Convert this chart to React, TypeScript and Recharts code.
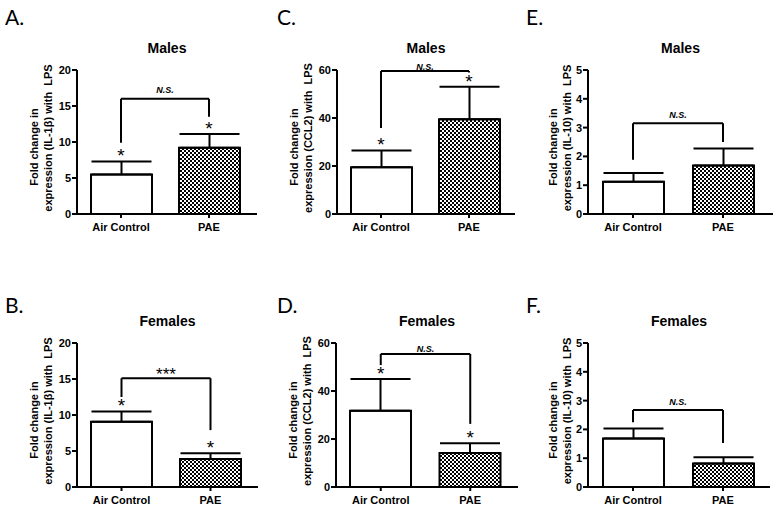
// Cytokine fold-change panels (A-F): bar + SEM, significance brackets.
import React from "react";
import {
  BarChart,
  Bar,
  Cell,
  XAxis,
  YAxis,
  ErrorBar,
  ReferenceLine,
  ReferenceDot,
} from "recharts";

const groups = ["Air Control", "PAE"];

// means and upper SEM
const il1bMale = [5.5, 9.2];
const il1bMaleSem = [1.8, 1.9];
const il1bFemale = [9.05, 3.9];
const il1bFemaleSem = [1.45, 0.8];
const ccl2Male = [19.5, 39.5];
const ccl2MaleSem = [7.0, 13.5];
const ccl2Female = [31.8, 14.2];
const ccl2FemaleSem = [13.2, 4.0];
const il10Male = [1.12, 1.68];
const il10MaleSem = [0.3, 0.59];
const il10Female = [1.68, 0.82];
const il10FemaleSem = [0.35, 0.21];

// brackets: [left leg bottom, bracket height, right leg bottom]
const il1bMaleBracket = [9.9, 16, 13.5];
const il1bFemaleBracket = [12.5, 15.1, 7.9];
const ccl2MaleBracket = [35.8, 59.6, 59.0];
const ccl2FemaleBracket = [50.8, 55.4, 26.3];
const il10MaleBracket = [1.88, 3.15, 2.5];
const il10FemaleBracket = [2.25, 2.67, 1.53];

// which bars carry a "*"
const il1bMaleStars = [true, true];
const il1bFemaleStars = [true, true];
const ccl2MaleStars = [true, true];
const ccl2FemaleStars = [true, true];
const il10MaleStars = [false, false];
const il10FemaleStars = [false, false];

const il1bTicks = [0, 5, 10, 15, 20];
const ccl2Ticks = [0, 20, 40, 60];
const il10Ticks = [0, 1, 2, 3, 4, 5];

const FONT = "'Liberation Sans', Arial, sans-serif";
const CHART_H = 234;
const PLOT_TOP = 70;

type Panel = {
  id: string;
  letter: string;
  title: string;
  gene: string;
  means: number[];
  sems: number[];
  bracket: number[];
  sig: string;
  sigOffset: number;
  stars: boolean[];
  ticks: number[];
  base: number;
  top: number;
  plotLeft: number;
  axisEnd: number;
  padRight: number;
  labelOff: number[];
};

const panels: Panel[] = [
  { id: "a", letter: "A.", title: "Males", gene: "IL-1\u03B2", means: il1bMale, sems: il1bMaleSem, bracket: il1bMaleBracket, sig: "N.S.", sigOffset: 6, stars: il1bMaleStars, ticks: il1bTicks, base: 0, top: 0, plotLeft: 77, axisEnd: 257, padRight: 4, labelOff: [39, 25] },
  { id: "b", letter: "B.", title: "Females", gene: "IL-1\u03B2", means: il1bFemale, sems: il1bFemaleSem, bracket: il1bFemaleBracket, sig: "***", sigOffset: -2, stars: il1bFemaleStars, ticks: il1bTicks, base: 0, top: 273, plotLeft: 77, axisEnd: 258, padRight: 3, labelOff: [39, 25] },
  { id: "c", letter: "C.", title: "Males", gene: "CCL2", means: ccl2Male, sems: ccl2MaleSem, bracket: ccl2MaleBracket, sig: "N.S.", sigOffset: 1, stars: ccl2MaleStars, ticks: ccl2Ticks, base: 260, top: 0, plotLeft: 337, axisEnd: 515, padRight: 2, labelOff: [39, 25] },
  { id: "d", letter: "D.", title: "Females", gene: "CCL2", means: ccl2Female, sems: ccl2FemaleSem, bracket: ccl2FemaleBracket, sig: "N.S.", sigOffset: 2, stars: ccl2FemaleStars, ticks: ccl2Ticks, base: 260, top: 273, plotLeft: 336, axisEnd: 518, padRight: 3, labelOff: [39, 25] },
  { id: "e", letter: "E.", title: "Males", gene: "IL-10", means: il10Male, sems: il10MaleSem, bracket: il10MaleBracket, sig: "N.S.", sigOffset: 5, stars: il10MaleStars, ticks: il10Ticks, base: 520, top: 0, plotLeft: 588, axisEnd: 773, padRight: 5, labelOff: [31, 17] },
  { id: "f", letter: "F.", title: "Females", gene: "IL-10", means: il10Female, sems: il10FemaleSem, bracket: il10FemaleBracket, sig: "N.S.", sigOffset: 5, stars: il10FemaleStars, ticks: il10Ticks, base: 520, top: 273, plotLeft: 588, axisEnd: 770, padRight: 2, labelOff: [31, 17] },
];

const tickStyle = { fontSize: 11, fontWeight: 700, fill: "#000", fontFamily: FONT };
const axisLine = { stroke: "#000", strokeWidth: 2 };

function yLabel(gene: string, off: number[]) {
  return (props: any) => {
    const vb = props.viewBox;
    const ax = vb.x + vb.width;
    const mid = vb.y + vb.height / 2;
    const common = {
      textAnchor: "middle" as const,
      fontFamily: FONT,
      fontSize: 11,
      fontWeight: 700,
      fill: "#000",
      style: { whiteSpace: "pre" as const },
    };
    return (
      <g>
        <text {...common} transform={`translate(${ax - off[0]},${mid + 5}) rotate(-90)`}>
          Fold change in
        </text>
        <text {...common} transform={`translate(${ax - off[1]},${mid - 4}) rotate(-90)`}>
          {`expression (${gene}) with  LPS`}
        </text>
      </g>
    );
  };
}

function PanelChart({ p }: { p: Panel }) {
  const width = p.base === 520 ? 256 : 260;
  const yMax = p.ticks[p.ticks.length - 1];
  const rows = groups.map((g, i) => ({
    group: g,
    mean: p.means[i],
    err: [0, p.sems[i]],
  }));
  const patId = `checker-${p.id}`;
  const [legL, top, legR] = p.bracket;
  const sigStyle =
    p.sig === "***"
      ? { fontSize: 17, fontWeight: 400, fontStyle: "normal" }
      : { fontSize: 9, fontWeight: 700, fontStyle: "italic" };

  return (
    <div style={{ position: "absolute", left: p.base, top: p.top }}>
      <BarChart
        width={width}
        height={CHART_H}
        data={rows}
        margin={{
          top: PLOT_TOP,
          right: p.base + width - p.axisEnd,
          bottom: 0,
          left: p.plotLeft - p.base - 45,
        }}
      >
        <defs>
          <pattern id={patId} width={4} height={4} patternUnits="userSpaceOnUse">
            <rect width={4} height={4} fill="#000" />
            <rect x={0} y={0} width={2} height={2} fill="#fff" />
            <rect x={2} y={2} width={2} height={2} fill="#fff" />
          </pattern>
        </defs>
        <XAxis
          dataKey="group"
          height={20}
          padding={{ left: 0, right: p.padRight }}
          axisLine={axisLine}
          tickLine={axisLine}
          tickSize={4}
          tickMargin={5}
          tick={tickStyle}
          interval={0}
        />
        <YAxis
          width={45}
          domain={[0, yMax]}
          ticks={p.ticks}
          interval={0}
          axisLine={axisLine}
          tickLine={axisLine}
          tickSize={5}
          tickMargin={1}
          tick={tickStyle}
          label={yLabel(p.gene, p.labelOff)}
        />
        <Bar dataKey="mean" barSize={61} stroke="#000" strokeWidth={2} isAnimationActive={false}>
          {rows.map((r, i) => (
            <Cell key={r.group} fill={i === 0 ? "#fff" : `url(#${patId})`} />
          ))}
          <ErrorBar dataKey="err" width={30} stroke="#000" strokeWidth={2} direction="y" isAnimationActive={false} />
        </Bar>
        <ReferenceLine
          segment={[{ x: groups[0], y: legL }, { x: groups[0], y: top }]}
          stroke="#000"
          strokeWidth={2}
          ifOverflow="visible"
        />
        <ReferenceLine
          segment={[{ x: groups[0], y: top }, { x: groups[1], y: top }]}
          stroke="#000"
          strokeWidth={2}
          ifOverflow="visible"
          label={{
            value: p.sig,
            position: "top",
            offset: p.sigOffset,
            fill: "#000",
            fontFamily: FONT,
            ...sigStyle,
          }}
        />
        <ReferenceLine
          segment={[{ x: groups[1], y: top }, { x: groups[1], y: legR }]}
          stroke="#000"
          strokeWidth={2}
          ifOverflow="visible"
        />
        {groups.map((g, i) =>
          p.stars[i] ? (
            <ReferenceDot
              key={g}
              x={g}
              y={p.means[i] + p.sems[i]}
              r={0}
              fill="none"
              stroke="none"
              ifOverflow="visible"
              label={{
                value: "*",
                position: "top",
                offset: -1,
                fill: "#000",
                fontSize: 19,
                fontFamily: FONT,
              }}
            />
          ) : null
        )}
      </BarChart>
    </div>
  );
}

export default function App() {
  return (
    <div
      style={{
        position: "absolute",
        left: 0,
        top: 0,
        width: 776,
        height: 509,
        overflow: "hidden",
        background: "#fff",
      }}
    >
      {panels.map((p) => (
        <PanelChart key={p.id} p={p} />
      ))}
      <svg
        width={776}
        height={509}
        style={{ position: "absolute", left: 0, top: 0, pointerEvents: "none" }}
      >
        {panels.map((p) => (
          <g key={p.id}>
            <text
              x={p.base + (p.base === 0 ? 5 : p.base === 260 ? 17 : 6)}
              y={p.top === 0 ? 25 : 313}
              fontFamily="Lato, 'Open Sans', sans-serif"
              fontSize={21}
              fill="#000"
            >
              {p.letter}
            </text>
            <text
              x={(p.plotLeft + p.axisEnd) / 2}
              y={p.top === 0 ? 53 : 326}
              textAnchor="middle"
              fontFamily={FONT}
              fontSize={14}
              fontWeight={700}
              fill="#000"
            >
              {p.title}
            </text>
          </g>
        ))}
      </svg>
    </div>
  );
}
